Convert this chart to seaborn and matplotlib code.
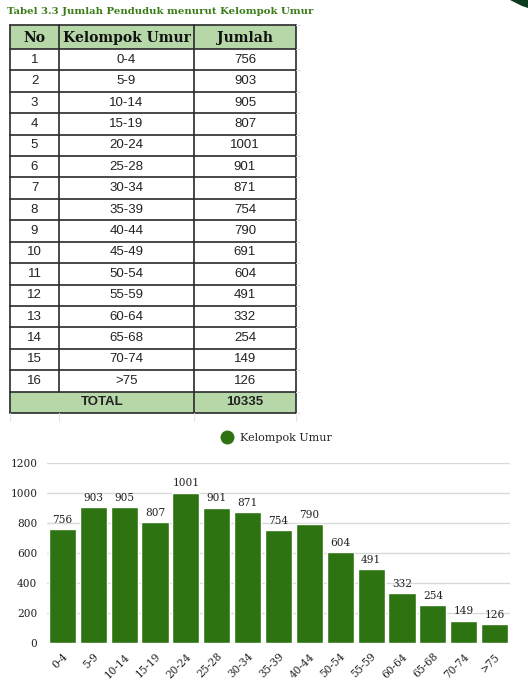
import numpy as np
import pandas as pd
import matplotlib
matplotlib.use("Agg")
import matplotlib.pyplot as plt
import seaborn as sns
from matplotlib.patches import Rectangle, Polygon
from matplotlib.lines import Line2D

# table data
nomor = list(range(1, 17))
kelompok = ["0-4", "5-9", "10-14", "15-19", "20-24", "25-28", "30-34", "35-39",
            "40-44", "45-49", "50-54", "55-59", "60-64", "65-68", "70-74", ">75"]
jumlah = [756, 903, 905, 807, 1001, 901, 871, 754, 790, 691, 604, 491, 332, 254, 149, 126]
total = 10335

# chart data (the chart in the source skips 45-49)
chart_groups = ["0-4", "5-9", "10-14", "15-19", "20-24", "25-28", "30-34", "35-39",
                "40-44", "50-54", "55-59", "60-64", "65-68", "70-74", ">75"]
chart_values = [756, 903, 905, 807, 1001, 901, 871, 754, 790, 604, 491, 332, 254, 149, 126]

GREEN = "#2e7312"
TITLE_GREEN = "#3a7d18"
HEAD_FILL = "#b6d7a8"
SERIF = "DejaVu Serif"
SANS = "Liberation Sans"

sns.set_style("white")

W, H = 528, 689
fig = plt.figure(figsize=(W / 100, H / 100), dpi=100)

# ---------------------------------------------------------
# Table (drawn in pixel coordinates on a full-figure axes)
# ---------------------------------------------------------
tab = fig.add_axes([0, 0, 1, 1])
tab.set_xlim(0, W)
tab.set_ylim(H, 0)
tab.axis("off")

fig.text(7 / W, 1 - 12 / H, "Tabel 3.3 Jumlah Penduduk menurut Kelompok Umur",
         family=SERIF, weight="bold", fontsize=7.3, color=TITLE_GREEN, va="center")

col_x = [10, 59, 194, 296]
top, head_h = 25, 24
row_h = (413 - 49) / 17
n_rows = len(nomor)

# header and total fills
tab.add_patch(Rectangle((col_x[0], top), col_x[-1] - col_x[0], head_h, fc=HEAD_FILL, ec="none"))
y_total = top + head_h + n_rows * row_h
tab.add_patch(Rectangle((col_x[0], y_total), col_x[-1] - col_x[0], row_h, fc=HEAD_FILL, ec="none"))

# header text
headers = ["No", "Kelompok Umur", "Jumlah"]
for i, h in enumerate(headers):
    tab.text((col_x[i] + col_x[i + 1]) / 2, top + head_h / 2 + 1, h, ha="center", va="center",
             family=SERIF, weight="bold", fontsize=10, color="#111")

# body rows
for r in range(n_rows):
    yc = top + head_h + (r + 0.5) * row_h
    vals = [str(nomor[r]), kelompok[r], str(jumlah[r])]
    for j, v in enumerate(vals):
        tab.text((col_x[j] + col_x[j + 1]) / 2, yc, v, ha="center", va="center",
                 family=SANS, fontsize=9.5, color="#222")

# total row text
yc = y_total + row_h / 2
tab.text((col_x[0] + col_x[2]) / 2, yc, "TOTAL", ha="center", va="center",
         family=SANS, weight="bold", fontsize=9.5, color="#222")
tab.text((col_x[2] + col_x[3]) / 2, yc, str(total), ha="center", va="center",
         family=SANS, weight="bold", fontsize=9.5, color="#222")

# grid lines of the table
bottom = y_total + row_h
for k in range(n_rows + 3):
    y = top if k == 0 else top + head_h + (k - 1) * row_h
    tab.plot([col_x[0], col_x[-1]], [y, y], color="#2a2a2a", lw=1.2)
for i, x in enumerate(col_x):
    if i == 1:
        tab.plot([x, x], [top, y_total], color="#2a2a2a", lw=1.2)
    else:
        tab.plot([x, x], [top, bottom], color="#2a2a2a", lw=1.2)

# faint spreadsheet lines around the table
for x in col_x:
    tab.plot([x, x], [bottom, bottom + 8], color="#e6e6e6", lw=0.8)
for k in range(n_rows + 3):
    y = top if k == 0 else top + head_h + (k - 1) * row_h
    tab.plot([col_x[-1], col_x[-1] + 4], [y, y], color="#e6e6e6", lw=0.8)

# corner decoration
fig.add_artist(Polygon([(510 / W, 1), (1, 1), (1, 1 - 8 / H), (522 / W, 1 - 6 / H)],
                       closed=True, transform=fig.transFigure, fc="#0d3b1e", ec="none"))

# ---------------------------------------------------------
# Bar chart
# ---------------------------------------------------------
df = pd.DataFrame({"kelompok": chart_groups, "jumlah": chart_values})

ax = fig.add_axes([47 / W, 1 - 643 / H, (510 - 47) / W, (643 - 462.7) / H])
sns.barplot(data=df, x="kelompok", y="jumlah", color=GREEN, saturation=1,
            width=0.88, ax=ax, zorder=3)
ax.set_xlim(-0.5, len(chart_groups) - 0.5)
ax.set_ylim(0, 1200)
ax.set_yticks(np.arange(0, 1201, 200))
ax.yaxis.grid(True, color="#d9d9d9", lw=1)
ax.set_axisbelow(True)
for s in ax.spines.values():
    s.set_visible(False)
ax.set_xlabel("")
ax.set_ylabel("")
ax.tick_params(axis="both", length=0, colors="#222")
ax.tick_params(axis="y", pad=7)
for lab in ax.get_yticklabels():
    lab.set_family(SERIF)
    lab.set_fontsize(7.6)
ax.set_xticks(range(len(chart_groups)))
ax.set_xticklabels(chart_groups, rotation=45, ha="right", rotation_mode="anchor",
                   family=SERIF, fontsize=7.6)
ax.tick_params(axis="x", pad=6)

ax.bar_label(ax.containers[0], padding=3, family=SERIF, fontsize=7.6, color="#222")

handle = Line2D([], [], marker="o", ls="", color=GREEN, markersize=9)
fig.legend([handle], ["Kelompok Umur"], loc="center", bbox_to_anchor=(274 / W, 1 - 438 / H),
           frameon=False, handletextpad=0.2, prop={"family": SERIF, "size": 8})

fig.savefig("out.png", dpi=100)
